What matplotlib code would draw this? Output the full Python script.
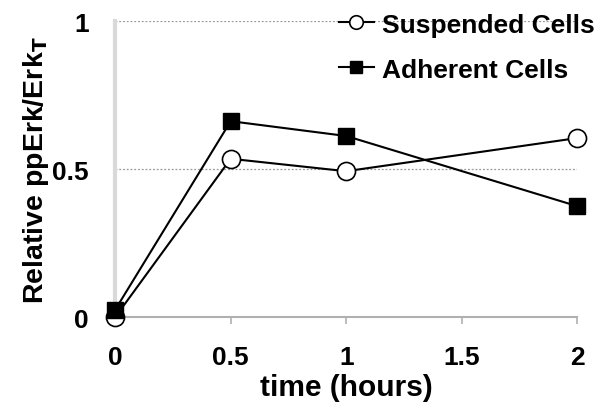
import matplotlib
matplotlib.use("Agg")
import matplotlib.pyplot as plt

time_hours = [0, 0.5, 1, 2]
suspended = [0.0, 0.535, 0.493, 0.605]
adherent = [0.025, 0.662, 0.612, 0.375]
x_ticks = [0, 0.5, 1, 1.5, 2]
x_tick_labels = ["0", "0.5", "1", "1.5", "2"]
y_ticks = [0, 0.5, 1]
y_tick_labels = ["0", "0.5", "1"]

plt.rcParams['font.family'] = ['Liberation Sans', 'DejaVu Sans']
plt.rcParams['font.weight'] = 'bold'

fig = plt.figure(figsize=(6, 4.1), dpi=100)
ax = fig.add_axes([0.192, 0.224, 0.770, 0.722])

for yv in [0.5, 1.0]:
    ax.axhline(yv, color='#999999', lw=0.9, ls=(0, (1.5, 1.5)), zorder=1)

ax.plot(time_hours, suspended, color='black', lw=1.5, marker='o', ms=13,
        mfc='white', mec='black', mew=1.2, label='Suspended Cells', clip_on=False, zorder=3)
ax.plot(time_hours, adherent, color='black', lw=1.5, marker='s', ms=11,
        mfc='black', mec='black', label='Adherent Cells', clip_on=False, zorder=4)

ax.set_xlim(0, 2)
ax.set_ylim(0, 1)
ax.set_xticks(x_ticks)
ax.set_xticklabels(x_tick_labels)
ax.set_yticks(y_ticks)
ax.set_yticklabels(y_tick_labels)

for s in ['top', 'right']:
    ax.spines[s].set_visible(False)
ax.spines['left'].set_color('#d9d9d9')
ax.spines['left'].set_linewidth(3)
ax.spines['bottom'].set_color('#b0b0b0')
ax.spines['bottom'].set_linewidth(1.5)
ax.tick_params(axis='x', direction='out', length=5, width=1.2, color='#b0b0b0',
               labelsize=19, pad=15)
ax.tick_params(axis='y', length=0, labelsize=19, pad=19)

ax.set_xlabel('time (hours)', fontsize=21.5, fontweight='bold', labelpad=3)
ax.set_ylabel(r'Relative ppErk/Erk$_{\mathbf{T}}$', fontsize=20.5, fontweight='bold', labelpad=1)

leg = fig.legend(loc='upper right', bbox_to_anchor=(1.03, 1.025), frameon=False,
                 handlelength=1.3, handletextpad=0.3, labelspacing=0.8, markerscale=0.75,
                 prop={'weight': 'bold', 'size': 19})

fig.savefig('out.png', dpi=100)
